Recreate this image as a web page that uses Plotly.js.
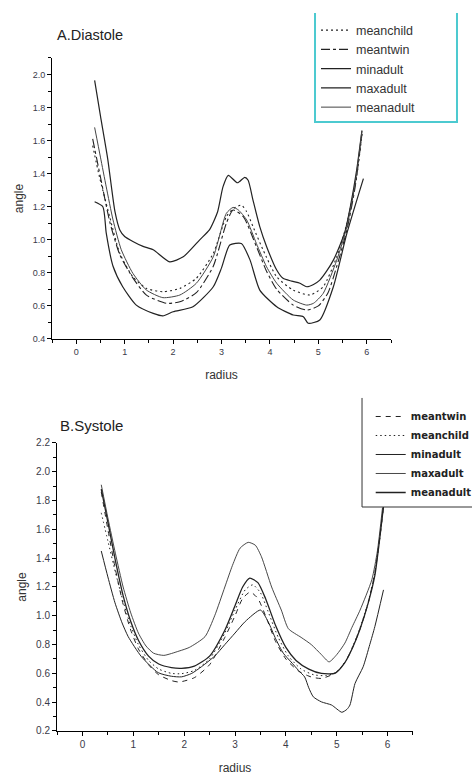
<!DOCTYPE html>
<html><head><meta charset="utf-8">
<script src="https://cdn.plot.ly/plotly-3.0.1.min.js"></script>
<style>
html,body{margin:0;padding:0;background:#fff;}
#chart{width:472px;height:775px;}
</style></head><body><div id="chart"></div>
<script>
// ---------- A. Diastole ----------
const diaMeanchildX = [0.34,0.48,0.69,0.9,1.17,1.45,1.79,2.14,2.48,2.83,3.1,3.25,3.41,3.52,3.65,3.86,4.14,4.48,4.83,5.1,5.38,5.59,5.79,5.9];
const diaMeanchildY = [1.57,1.38,1.14,0.918,0.776,0.706,0.686,0.706,0.767,0.918,1.14,1.19,1.21,1.17,1.08,0.938,0.776,0.696,0.666,0.716,0.897,1.10,1.38,1.64];
const diaMeantwinX = [0.34,0.5,0.7,0.9,1.17,1.45,1.86,2.14,2.48,2.83,3.1,3.24,3.45,3.72,3.93,4.14,4.48,4.76,5.0,5.2,5.38,5.59,5.76,5.9];
const diaMeantwinY = [1.61,1.38,1.10,0.91,0.77,0.665,0.616,0.625,0.68,0.84,1.10,1.18,1.14,0.96,0.81,0.70,0.605,0.575,0.60,0.68,0.84,1.06,1.32,1.64];
const diaMinadultX = [0.38,0.55,0.62,0.76,0.96,1.24,1.59,1.79,2.0,2.41,2.83,3.0,3.17,3.41,3.59,3.79,4.14,4.48,4.69,4.79,5.03,5.31,5.59,5.93];
const diaMinadultY = [1.23,1.20,1.04,0.84,0.716,0.605,0.555,0.54,0.565,0.595,0.716,0.83,0.968,0.978,0.877,0.696,0.595,0.545,0.535,0.495,0.515,0.716,1.04,1.37];
const diaMaxadultX = [0.38,0.5,0.65,0.8,0.9,1.0,1.17,1.38,1.59,1.93,2.21,2.55,2.75,2.92,3.03,3.14,3.33,3.48,3.55,3.65,3.79,3.93,4.14,4.27,4.45,4.62,4.76,4.9,5.03,5.17,5.31,5.45,5.55,5.66,5.79,5.9];
const diaMaxadultY = [1.965,1.75,1.49,1.17,1.06,1.02,0.99,0.96,0.94,0.867,0.897,1.0,1.06,1.17,1.32,1.39,1.345,1.378,1.36,1.24,1.08,0.96,0.817,0.767,0.75,0.737,0.716,0.73,0.756,0.81,0.877,0.97,1.05,1.2,1.42,1.66];
const diaMeanadultX = [0.38,0.5,0.62,0.76,0.93,1.17,1.45,1.79,2.14,2.48,2.83,3.1,3.24,3.35,3.52,3.72,3.93,4.14,4.48,4.76,4.9,5.1,5.38,5.59,5.76,5.9];
const diaMeanadultY = [1.68,1.50,1.32,1.12,0.94,0.797,0.696,0.65,0.666,0.737,0.897,1.16,1.196,1.18,1.12,0.978,0.837,0.737,0.636,0.605,0.616,0.676,0.877,1.08,1.34,1.66];

// ---------- B. Systole ----------
const sysMeantwinX = [0.37,0.5,0.65,0.8,0.95,1.1,1.3,1.5,1.75,1.9,2.2,2.5,2.8,3.0,3.15,3.3,3.45,3.6,3.8,4.0,4.25,4.5,4.7,4.96,5.15,5.3,5.45,5.62,5.75,5.85,5.95];
const sysMeantwinY = [1.86,1.60,1.32,1.08,0.90,0.77,0.66,0.59,0.55,0.54,0.57,0.66,0.85,1.0,1.12,1.165,1.12,1.0,0.82,0.70,0.615,0.575,0.565,0.60,0.67,0.77,0.90,1.09,1.30,1.55,1.85];
const sysMeanchildX = [0.37,0.5,0.65,0.8,0.95,1.1,1.3,1.5,1.75,1.95,2.2,2.5,2.8,3.0,3.2,3.35,3.5,3.65,3.85,4.05,4.3,4.55,4.8,5.0,5.2,5.4,5.6,5.75,5.85,5.93];
const sysMeanchildY = [1.715,1.52,1.30,1.10,0.93,0.80,0.69,0.63,0.60,0.598,0.62,0.70,0.88,1.04,1.18,1.215,1.16,1.03,0.85,0.72,0.63,0.59,0.585,0.61,0.70,0.86,1.07,1.30,1.55,1.80];
const sysMinadultX = [0.37,0.5,0.64,0.78,0.9,1.16,1.49,1.75,1.95,2.15,2.34,2.6,2.8,3.0,3.2,3.5,3.65,3.8,3.95,4.1,4.25,4.37,4.45,4.54,4.7,4.9,5.1,5.2,5.26,5.36,5.52,5.65,5.75,5.92];
const sysMinadultY = [1.45,1.27,1.09,0.95,0.855,0.716,0.605,0.58,0.576,0.60,0.646,0.72,0.80,0.88,0.96,1.04,0.96,0.84,0.74,0.68,0.62,0.575,0.50,0.437,0.402,0.38,0.33,0.35,0.38,0.53,0.646,0.80,0.925,1.18];
const sysMaxadultX = [0.37,0.5,0.65,0.8,0.95,1.1,1.25,1.4,1.6,1.9,2.1,2.41,2.6,2.8,2.95,3.1,3.26,3.4,3.52,3.72,3.91,4.05,4.3,4.5,4.7,4.85,5.0,5.16,5.3,5.46,5.69,5.8,5.9];
const sysMaxadultY = [1.91,1.68,1.43,1.20,1.02,0.88,0.79,0.74,0.725,0.755,0.78,0.855,1.0,1.2,1.35,1.47,1.51,1.49,1.41,1.20,1.04,0.91,0.85,0.80,0.73,0.68,0.73,0.81,0.92,1.04,1.25,1.45,1.75];
const sysMeanadultX = [0.37,0.5,0.65,0.8,0.95,1.1,1.3,1.5,1.75,1.95,2.2,2.5,2.8,3.0,3.15,3.29,3.45,3.6,3.8,4.0,4.2,4.45,4.7,4.96,5.15,5.3,5.45,5.62,5.75,5.85,5.95];
const sysMeanadultY = [1.88,1.65,1.38,1.14,0.96,0.83,0.72,0.665,0.64,0.635,0.65,0.72,0.90,1.07,1.20,1.262,1.23,1.12,0.93,0.78,0.69,0.63,0.60,0.60,0.67,0.77,0.90,1.09,1.28,1.55,1.85];

const xTickVals = [0,1,2,3,4,5,6];
const FONT = 'Liberation Sans, Arial, sans-serif';

function tr(name, x, y, dash, width, color, xa, ya, legend) {
  return {type:'scatter', mode:'lines', name:name, x:x, y:y, xaxis:xa, yaxis:ya, legend:legend,
    line:{color:color, width:width, dash:dash, shape:'spline', smoothing:0.6}, hoverinfo:'skip'};
}

const data = [
  tr('meanchild', diaMeanchildX, diaMeanchildY, '2px,3px', 1.1, '#222', 'x', 'y', 'legend'),
  tr('meantwin', diaMeantwinX, diaMeantwinY, 'dashdot', 1.1, '#222', 'x', 'y', 'legend'),
  tr('minadult', diaMinadultX, diaMinadultY, 'solid', 1.2, '#222', 'x', 'y', 'legend'),
  tr('maxadult', diaMaxadultX, diaMaxadultY, 'solid', 1.2, '#222', 'x', 'y', 'legend'),
  tr('meanadult', diaMeanadultX, diaMeanadultY, 'solid', 1.0, '#444', 'x', 'y', 'legend'),
  tr('meantwin', sysMeantwinX, sysMeantwinY, '5px,5px', 1.0, '#222', 'x2', 'y2', 'legend2'),
  tr('meanchild', sysMeanchildX, sysMeanchildY, '1.5px,3px', 1.0, '#222', 'x2', 'y2', 'legend2'),
  tr('minadult', sysMinadultX, sysMinadultY, 'solid', 1.0, '#222', 'x2', 'y2', 'legend2'),
  tr('maxadult', sysMaxadultX, sysMaxadultY, 'solid', 0.9, '#333', 'x2', 'y2', 'legend2'),
  tr('meanadult', sysMeanadultX, sysMeanadultY, 'solid', 1.3, '#222', 'x2', 'y2', 'legend2')
];

function xax(domain, anchor, fs) {
  return {domain:domain, anchor:anchor, range:[-0.5,6.5], tickvals:xTickVals, ticks:'outside', ticklen:4,
    tickcolor:'#000', showline:true, linecolor:'#000', linewidth:1, showgrid:false, zeroline:false,
    minor:{dtick:0.5, tick0:0, ticks:'outside', ticklen:3, tickcolor:'#000', showgrid:false},
    tickfont:{family:FONT, size:fs, color:'#3a3a48'},
    title:{text:'radius', font:{family:FONT, size:12, color:'#333'}, standoff:14}};
}
function yax(domain, anchor, range, fs) {
  return {domain:domain, anchor:anchor, range:range, tick0:0, dtick:0.2, tickformat:'.1f', ticks:'outside', ticklen:4,
    tickcolor:'#000', showline:true, linecolor:'#000', linewidth:1, showgrid:false, zeroline:false,
    minor:{dtick:0.1, tick0:0, ticks:'outside', ticklen:3, tickcolor:'#000', showgrid:false},
    tickfont:{family:FONT, size:fs, color:'#3a3a48'},
    title:{text:'angle', font:{family:FONT, size:12, color:'#333'}, standoff:6}};
}

const layout = {
  width:472, height:775, margin:{l:0, r:0, t:0, b:0, autoexpand:false},
  paper_bgcolor:'#fff', plot_bgcolor:'#fff', showlegend:true,
  xaxis: xax([0.1102,0.8284], 'y', 9),
  yaxis: yax([0.5626,0.9252], 'x', [0.4,2.1], 9),
  xaxis2: xax([0.1208,0.875], 'y2', 10),
  yaxis2: yax([0.0568,0.4284], 'x2', [0.2,2.2], 10),
  legend:{x:0.6695, xanchor:'left', y:0.98, yanchor:'top', bgcolor:'rgba(0,0,0,0)', borderwidth:0,
    font:{family:FONT, size:12.5, color:'#333'}, itemwidth:30, tracegroupgap:0},
  legend2:{x:0.7854, xanchor:'left', y:0.4813, yanchor:'top', bgcolor:'rgba(0,0,0,0)', borderwidth:0,
    font:{family:'DejaVu Sans, sans-serif', size:10, color:'#222', weight:'bold'}, itemwidth:30, tracegroupgap:0},
  shapes:[
    {type:'path', xref:'paper', yref:'paper', layer:'above',
     path:'M0.6674,0.9832 L0.6674,0.8426 L0.9682,0.8426 L0.9682,0.9832',
     fillcolor:'#fff', line:{color:'#4ccad0', width:2}},
    {type:'path', xref:'paper', yref:'paper', layer:'above',
     path:'M0.767,0.4865 L0.767,0.3458 L1.05,0.3458 L1.05,0.4865',
     fillcolor:'#fff', line:{color:'#333', width:1}}
  ],
  annotations:[
    {text:'A.Diastole', xref:'paper', yref:'paper', x:0.1165, y:0.9548, xanchor:'left', yanchor:'middle',
     showarrow:false, font:{family:FONT, size:14.5, color:'#222'}},
    {text:'B.Systole', xref:'paper', yref:'paper', x:0.1229, y:0.4516, xanchor:'left', yanchor:'middle',
     showarrow:false, font:{family:FONT, size:15, color:'#222'}}
  ]
};

Plotly.newPlot('chart', data, layout, {staticPlot:true, displayModeBar:false});
</script></body></html>
